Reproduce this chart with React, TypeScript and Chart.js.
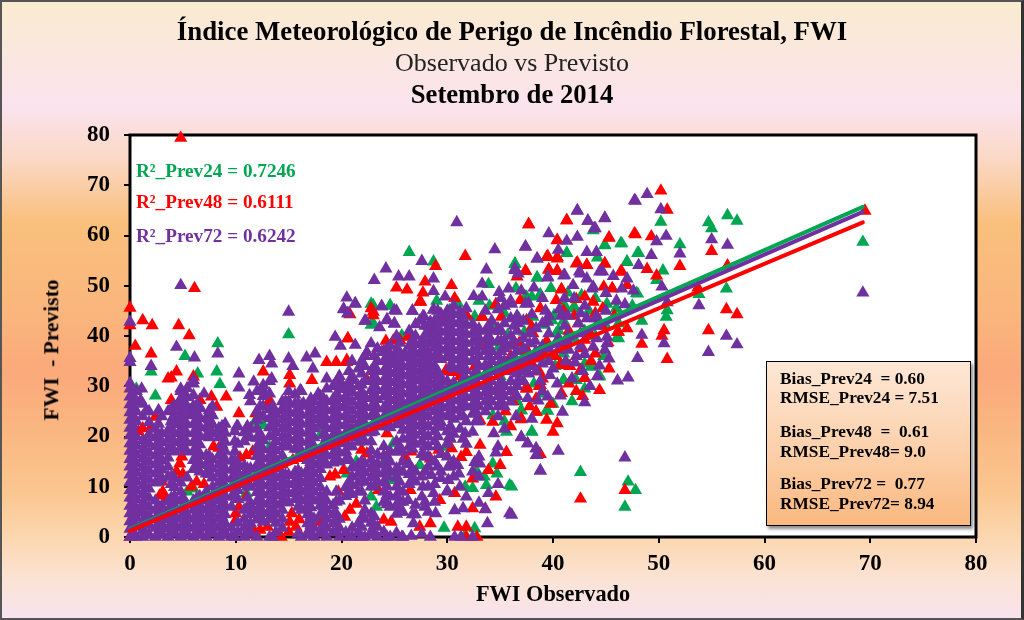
import React, { useEffect, useRef } from "react";
import { Chart, registerables } from "chart.js";

Chart.register(...registerables);

const axisTicks = [0, 10, 20, 30, 40, 50, 60, 70, 80];
const trendX = [0, 69.3];
const trendPrev24 = [1.6, 65.7];
const trendPrev48 = [1.2, 62.6];
const trendPrev72 = [1.4, 64.7];

const prev24Points = [
  [56.5,64],[57.4,62.9],[54.7,62.6],[55,61.4],[50.2,62.7],[52,58.2],[46.4,58.4],[44.9,58],[41.3,56.5],[48.1,56.5],[43.8,61],[44.2,55.6],
  [47,54.7],[50.4,53],[49.8,51.1],[38.5,51.6],[36.4,54.4],[48,48.4],[56.4,49.4],[53.8,48.3],[69.3,58.7],[50.8,45.1],[50.7,43.8],[48.4,43],
  [46.1,39.8],[38.8,48.1],[38,47.8],[37.4,47.8],[46,45.5],[45.1,46.4],[42.7,48.1],[41.1,46.1],[39.9,43.1],[40.5,41.1],[42.1,31.2],[43.7,33.9],
  [44.4,32.1],[41,31.2],[43,34.5],[37,25.2],[39.5,25.1],[38,21],[42.6,12.9],[47.1,11],[47.8,9.3],[46.8,6],[36.1,10],[41.9,45.5],
  [15,40.3],[8.3,38.5],[5.2,36],[2,32.9],[8.2,32.9],[8.5,30.4],[2.4,28.1],[6.4,32.5],
  [23,42.5],[24.6,46.1],[30.2,45.1],[32.6,43.8],[35.4,44.5],[38.1,43.8],[22.8,46.4],[25.7,40.1],[27,36.5],[28.5,39.1],[37,25.2],[39.4,25.2],
  [34.3,24.2],[35.6,20.9],[38,20.9],[34.3,14.6],[34.7,12.6],[32.8,13],[31.7,10],[32.4,9.7],[33.5,12],[33.7,10.3],[35.9,10.3],[29.7,1.8],
  [32.6,1.7],[31.7,0.4],[29.8,17.9],[27.4,14.3],[24.9,18.6],[24.2,15.6],[24.7,11.3],[22.8,8],[23.3,6],[21.4,15],[20.5,12.6],[18,20.3],
  [13.2,17.9],[12.6,22.2],[11.8,22.9],[5.4,9],[6,9.6],[1.3,17.3],[0.6,29.5],[11,8.7],[12.4,4.7],[15.9,10],
  [26.4,56.7],[28.7,54.8],[33.9,50.3],[36.4,54.3],[38.5,51.6],[41.3,56.5],[44.9,58.1],[46.5,58.4],[47,54.8],[48,56.5],[47.9,48.5],[23,46.1],
  [24.6,46],[22.8,42.2],[28.5,38.8],[32.6,43.8],[34.3,42.5],[36.2,38.8],[37.5,47.8],[38.8,48.3],[39.7,43.2],[40.3,40.5],[42.1,45.5],[46,45.5],
  [46.2,39.5],[41,31.2],[42.2,31.2],[43.6,33.9],[44.4,31.9],[39.2,42.2],[40.1,44.1],[41,43],[37.3,40.8],[35.7,40.2],[36.8,43.4],[34.9,37.8],
  [35,32],[36,35],[37,37],[37.8,35],[38.6,33],[39.4,36],[40.2,34],[41,36.5],[42,39.5],[43,41],[44,40],[45,42],[38.2,30.5],[39,28.5],[40,26.5],
  [36.6,27],[35.4,23],[41.8,27],[43,29.5],[44.8,36],[46.2,42.5],[47.5,46],[33,47],[31,46.5],[29,47],[43.4,45],[44,47.5],[41.4,48.6],[39.8,49.5],
  [36.5,49.5],[34,46],
];

const prev48Points = [
  [50.2,68.9],[50.8,65.1],[41.3,63],[37.7,62.2],[40.4,59],[45.3,59.5],[47.8,60.2],[49.3,59.8],[39.4,55.7],[40.4,55.7],[42.2,54.4],[43.2,54.1],
  [44.9,54.4],[55,56.9],[52,53.9],[56.5,54],[48.9,53.3],[49.8,52],[37.4,52.9],[39.6,53.2],[40.4,52.9],[46.4,52.8],[40.8,49.2],[47,50.1],
  [45.6,49.4],[44.8,49.8],[69.5,64.9],[53.7,49.6],[56.4,45.3],[57.4,44.3],[54.7,41.1],[50.5,41.1],[50.3,40],[46.1,40.8],[48.4,38.4],[50.8,35.4],
  [45.3,33.5],[43,31.6],[42.6,33.2],[40.8,34.2],[44.4,29.2],[40.8,28.6],[38.7,30],[37.5,29.5],[38.4,24.9],[37,23.4],[39.4,23.3],[40.4,22.6],
  [40,20.9],[38.8,16.5],[42.6,7.6],[46.8,9.3],[4.8,79.4],[6.1,49.5],
  [0,45.6],[1.2,43.1],[2.1,42.1],[4.6,42.1],[5.6,40.1],[0.5,38],[2,36.5],[0,42.1],
  [3.6,31.5],[4.4,32.9],[3.9,31.7],[6,31.9],[6.6,27.2],[8.2,25.9],[9.1,27.9],[3.9,27.2],[7.7,27.9],[2.4,23.9],[10.3,24.6],[11.9,24.6],
  [13.2,27.2],[12.6,32.9],[15.1,32.2],[15.1,30.5],[17.2,31.2],[18.6,34.8],[19.5,34.8],[20.5,34.8],[19.7,31.5],[20.6,39.5],[23,44.8],[27.5,46.8],
  [25.5,39.1],[24.9,39.1],[24.2,39],[28.6,41.1],[31.8,44.1],[33.3,43.8],[34.6,46.3],[37.5,43.1],[38.1,40.5],[39.1,36.5],[37.5,29.5],[38.8,30.2],
  [37,23.6],[38.4,24.9],[34.3,22.9],[33.1,18.3],[35.6,16.9],[35,14.3],[33.9,13.3],[31.8,16.9],[31.3,15.9],[30.4,17.6],[29.2,17.3],[28.4,15.6],
  [32.4,11.6],[30.7,8.7],[29.3,7.3],[34.6,8],[32.4,5.7],[33.6,5.6],[31,2],[31.8,2],[28.4,2.7],[27.4,2],[26.5,9.3],[24,3.4],[24.7,3],[23.5,9.3],
  [32.8,0],[31.8,0],[26.1,15.3],[33.1,23.2],[37.7,62.2],[41.3,63],[47.7,60.4],[45.3,59.6],[40.4,59.1],[31.7,55.9],[28.9,53.9],[27.9,50.8],
  [25.2,49.6],[26.2,49.2],[30.4,50.1],[27.7,48.6],[27.4,46.8],[30.7,47.5],[22.8,45.5],[23,44.1],[20.8,44.3],[20.6,39.5],[25.5,39.2],[26.3,39.8],
  [28.7,41.2],[29.8,43.8],[31.8,44.1],[33.3,43.8],[34.6,46.3],[35.1,43.8],[37.4,53],[36.6,51.8],[39.5,55.9],[40.4,55.4],[39.6,53.2],[40.4,53],
  [42.3,54.6],[43.2,54.1],[44.9,54.4],[46.5,52.8],[40.8,49.3],[42.2,47.3],[40.3,47.1],[43.8,46.8],[45.6,49.5],[44.7,45.5],[38,41.8],[38.8,45.5],
  [36.9,47.1],[46.2,40.8],[43,39.2],[40.7,34.5],[43,31.6],[38.7,32.9],[37.5,29.9],[38.8,30.2],[28.4,33.9],[30,32.9],[31.2,31.9],[32.6,33.9],
  [20.5,35.2],[22.4,31.2],[23.4,31],[27.7,36.5],[36.8,38.6],[37.6,37],[41.5,41],[42.4,42.5],[39.4,39],
  [4.7,14.6],[4.4,13],[5,12.5],[4.9,16],[1.2,21.6],[2,21.9],[0.8,21],[6.3,11],[7,10.5],[5.8,10],[3.1,9],[3.4,7.5],[2.8,8.2],
  [11,16.3],[10.4,15.8],[11.6,17],[7.9,18],[8.4,17.7],[6.6,27.2],[15.4,15.3],[16,15.7],[10,4.7],[10.3,6],[9.9,3],[11,8],[12.3,1.4],[13,2],[11.8,1],
  [15.3,4.7],[15.7,2],[16,3.5],[15.1,3],[20.8,5.4],[21.4,6.6],[20.3,4],[18.9,12],[19.4,12.4],[22.4,16.6],[21.9,17.3],[20.2,13.3],[26,16],[26.6,17],
  [24.3,20.6],[29.9,33.2],[30.6,32.8],[14.3,0],[15,1],[3,11],[13,26],[19.7,9],[17,6],[18,3],[22,13],[21.3,20],[25,24],[27.3,24],[0,0],[1,5],
  [34,31],[35,29.5],[35.5,34],[36.2,27],[36.8,33],[37.2,35.5],[38,34.5],[38.4,27.5],[39,31.5],[39.8,26.5],[40.2,36],[41,38.5],[41.6,34],[42.2,29],
  [42.8,37.5],[43.5,40.5],[44,36.5],[44.6,42],[45.2,38.7],[45.8,44],[47,41.5],[41,45],[42,44],[43,47.8],[44,44.5],[36,36],[35,41],[33.5,38.5],
  [34,27],[36,22],[35.5,25],[37.8,26],[41.5,30.5],[42.8,28],[43.6,35],
];

const prev72Points = [
  [4.8,50.1],[30.9,62.6],[42.3,65],[43.3,62.9],[44.9,63.5],[47.7,67],[44,61.4],[39.6,60.4],[41.3,58.9],[42.3,59.7],[37.4,57.7],[34.5,57.2],
  [40.5,57.1],[38.5,55.4],[43.2,56.7],[44.1,56.7],[27.6,54.9],[24.2,53.4],[33.7,53.2],[36.4,53.4],[36.7,52.4],[25.4,51.8],[26.4,51.8],[23.1,51.1],
  [28.7,51.4],[33.3,50.4],[39.5,51.6],[41.1,52.1],[42.5,52.8],[44.7,52.8],[45.7,51.9],[47,51.4],[46.5,49.4],[41.9,50.1],[43.8,49.8],[43.2,51.4],
  [28.7,48.9],[35.8,49.4],[34.9,48.7],[35.1,47.5],[32.5,47.9],[33.3,47.8],[29.8,47.8],[20.5,47.6],[21.3,46.5],[20.2,45.3],[20.6,44.5],[23.8,45.9],
  [25.2,45],[26.7,45],[28.7,45.3],[27.8,43.9],[22.3,43],[24.3,43.3],[25,42.4],[23.6,41.7],[27,42.3],[37.7,46.5],[41.1,47.5],[40.6,45.3],[45,48.5],
  [48.9,68.2],[47.8,66.9],[50.2,65.2],[42.3,64.9],[44.9,63.4],[43.3,62.9],[43.9,61.4],[50.7,59.9],[49.8,58.8],[55,59.2],[56.5,58.1],[52,56.4],
  [49.3,56.1],[37.4,57.8],[38.5,55.4],[48.1,54.1],[36.4,53.1],[44.4,52.8],[41,52],[39.5,51.8],[42.6,52.4],[43.7,49.4],[50.3,49.8],[50.8,46.7],
  [53.8,46.1],[56.4,40],[57.4,38.3],[54.7,36.8],[48.4,40.2],[50.5,38.5],[48,35.6],[45.1,39.8],[45.1,38.5],[44.9,37.2],[45.3,35.5],[44.4,34.1],
  [42.1,34.7],[46.1,31.1],[47.1,31.7],[43,26.8],[40.9,24.9],[40.7,28.1],[39.5,27.9],[38.6,27.1],[37.6,27.6],[40.4,30.5],[39.7,32.2],[37.7,32.5],
  [36.7,31.2],[43,36.4],[43.8,37.8],[41.5,37.2],[40.5,37.2],[40.5,17.1],[37,19.9],[37.6,18.6],[38.4,17.6],[38.5,16.3],[38.8,13.2],[46.8,15.8],
  [69.3,48.6],[36.1,4.4],[39.3,45],[38,44.3],[36.1,46.4],[37.4,46.4],[36.7,42.5],[38.3,39],[40.5,39.5],[42.4,42.5],[43.2,43.5],[41.1,42],
  [15,44.8],[0,42.8],[4.4,37.8],[6.1,35.7],[8.3,36.5],[0,34.8],[2,34],[0,35.6],
  [12.2,35.2],[13.2,36],[13.4,34.5],[15,35.5],[15.4,34],[16.7,35.7],[17.5,36.5],[17.3,33.5],[19.4,39.8],[19.9,38],[21.3,38.2],[22.2,43],[20.2,45.4],
  [21.3,46.4],[20.6,44.5],[23.8,45.9],[24.3,43.1],[25,45.1],[25,42.5],[26.7,45],[27.7,43.9],[28.7,45.2],[28.4,42.8],[27.4,43],
  [10.3,32.5],[10.3,29.7],[11.3,28.2],[11.7,30.9],[12.6,29.2],[13.4,31.5],[4.8,29.5],[6,31.2],[1.1,29.5],[1,27.2],[2.7,25.2],[4.1,25.9],[4.1,23.9],
  [4.7,27.2],[7,28.5],[6.6,25.9],[5.7,25.2],[8.5,20.6],[10.1,22],[14.5,25.9],[16.1,29.2],[16.4,26.6],[17.8,28.5],[18.6,31.5],[20,30.5],[21.1,31.2],
  [20.2,25.9],[22.4,36.8],[22.8,38.5],[23.8,36.8],[26,36.5],[24.7,35.2],[27.1,34.5],[27.5,31.9],[25.5,33.2],[22.8,29.2],[24,27.9],[26.5,23.9],
  [29.4,21.9],[30.2,19.9],[31.7,20.6],[32.4,20.9],[34.4,20.6],[37,19.8],[37.6,18.6],[38.4,17.6],[38.4,16.3],[38.8,13.2],[34.6,16.8],[32.6,14.9],
  [33.1,14.6],[30.1,14],[31,14.3],[31.1,12.6],[30.1,11.3],[33.9,8.7],[31.5,5.7],[33.6,5.5],[35.9,4.7],[33.8,2.7],[30.7,5.3],[28.7,8.7],[27.9,6],
  [26.3,7.3],[26.8,2.7],[28.4,0],[30.7,0],[32.4,0],[25.7,0],[26.6,0.2],[31.3,0],[30,9.2],[29.4,11.7],[28.5,12.3],[27.7,10],[28.9,4.7],
  [38.8,31],[40,33.5],[41.2,35],[42.2,36],[42.8,33],[43.5,30],[44.2,32],[39.5,42.8],[40.8,44],[42,47.5],[43,46],[44,43.5],[45,45],[46,47],[46.8,46.3],
  [47.6,49],[37,49],[38.2,49.6],[39,47.5],[41.8,31.5],[38,23.5],[36.5,24],[35.4,21.5],[34.8,10.5],[33,6.8],
];

// Each row: observed value, then the forecasts read at about that value (dense lower-left mass).
const prev72Columns = [
  [0,0,1.6,3.1,4.7,6.2,7.8,9.3,10.9,12.4,14,15.5,17.1,18.6,20.2,21.7,23.3,24.8,26.4,27.9,29.5,30.6],
  [0.6,0,2,3.8,5.6,7.4,9.2,11,12.8,14.6,16.4,18.2,20,23,25,27,29],
  [1.2,0,1.2,3,4.8,6.6,8.4,10.2,12,13.8,15.6,17.4,19.2,24,26.5],
  [1.8,0.5,2.4,4.2,6,7.8,9.6,11.4,13.2,15,16.8,18.6,20.4,22.8,25],
  [2.4,0,1.8,3.6,5.4,7.2,10.8,12.6,14.4,16.2,18,19.8,21.5],
  [3,0.8,2.6,4.4,6.2,11.6,13.4,15.2,17,18.8,20.6,24],
  [3.6,0,1.7,3.5,5.3,7.1,12,14,15.8,17.6,19.4,21.2,25],
  [4.2,0.9,2.7,4.5,6.3,8.1,9.9,11.7,17,18.8,20.6,22.4,24.2,26],
  [4.8,0,1.8,3.6,5.4,7.2,9,10.8,17.8,19.6,21.4,23.2,25,26.8,29],
  [5.4,0.8,2.6,4.4,6.4,11.8,17,18.8,20.6,22.4,24.2,26,27.8,29.6],
  [6,0,1.8,3.6,5.4,7.2,13.5,15.3,17.1,18.9,20.7,22.5,24.3,26.1,28.2,30.5],
  [6.6,0.9,2.7,4.5,6.3,8.1,13,14.8,16.6,18.4,20.2,22,23.8,25.6],
  [7.2,0,1.8,3.6,5.4,7.2,9,12.6,14.4,16.2,20,21.8,23.6],
  [7.8,1,2.8,4.6,6.4,8.2,10,11.8,13.6,15.4,20.6,22.4,24.2,26],
  [8.4,0,1.8,3.6,5.4,7.2,9,10.8,12.6,14.4,16.2,19.8,21.6],
  [9,0.9,2.7,4.5,6.3,8.1,9.9,11.7,13.5,15.3,17.1,18.9,20.7,22.5],
  [9.6,0,1.8,6,8,9.8,11.6,13.4,15.2],
  [10.2,1,2.8,7.5,9.3,11.1,12.9,14.7,18.5,22],
  [10.8,0,1.8,3.6,5.4,10.5,12.3,14.1,19,20.8],
  [11.4,0.9,2.7,4.5,6.3,10,11.8,13.6,19.8,21.6,27],
  [12,0,3.5,5.3,7.1,8.9,10.7,12.5,14.3,16.1,17.9,19.7,21.5,23.3,25,29],
  [12.6,3,4.8,6.6,8.4,10.2,12,13.8,15.6,17.4,19.2,24,26,28,30.2],
  [13.2,0,3.6,5.4,7.2,9,10.8,12.6,14.4,16.2,20,21.8,23.6,25.4,28.5,31],
  [13.8,1,2.8,4.6,6.4,8.2,10,11.8,13.6,15.4,17.2,19,20.8,22.6,24.4],
  [14.4,1.8,3.6,5.4,7.2,9,10.8,12.6,14.4,16.2,18,19.8,21.6,23.4,25.2,27],
  [15,6.9,8.7,10.5,12.3,18,19.8,21.6,23.4,25.2,27,29],
  [15.6,7.5,9.3,11.1,12.9,17.5,19.3,21.1,22.9,24.7,26.5,28.3],
  [16.2,0,5.4,7.2,9,10.8,12.6,17.2,19,20.8,22.6,24.4,26.2,29],
  [16.8,0.9,2.7,4.5,6.3,8.1,9.9,11.7,13.5,15.3,17.1,18.9,20.7,22.5,24.3,26.1],
  [17.4,0,1.8,3.6,7.2,9,10.8,12.6,14.4,16.2,18,19.8,21.6,23.4,25.2,27],
  [18,0.9,4.5,6.3,8.1,9.9,11.7,13.5,15.3,17.1,22.5,24.3,26.1,28],
  [18.6,0,1.8,3.6,5.4,7.2,9,14.4,16.2,18,19.8,21.6,23.4,25.2,27,29.5],
  [19.2,0.9,2.7,4.5,6.3,14.8,16.6,18.4,20.2,22,23.8,25.6,27.4,30],
  [19.8,0,1.8,3.6,7.2,15,16.8,18.6,20.4,22.2,24,25.8,27.6,29.4,32],
  [20.4,0.9,8.1,9.9,15.3,17.1,18.9,20.7,22.5,24.3,26.1,28,29.8],
  [21,0,1.8,8.5,10.3,12,13.8,18,19.8,21.6,23.4,25.2,27,29,32,35],
  [21.6,0.9,2.7,9,10.8,12.6,14.4,18.9,20.7,22.5,24.3,26.1,27.9,30,33.5],
  [22.2,0,3.6,5.4,7.2,11,12.8,14.6,19,20.8,22.6,24.4,26.2,28,31,34,36],
  [22.8,1,2.8,4.6,10,11.8,13.6,15.4,17.2,19,20.8,24,25.8,27.6,31,33],
  [23.4,0,2,11,12.8,14.6,16.4,22,23.8,25.6,27.4,29.2,31,33,35,37.5],
  [24,1,7,9,10.8,12.6,14.4,16.2,18,22,23.8,25.6,29.4,31.2,33,35,37],
  [24.6,0,6,8,13,15,17,21.8,23.6,25.4,27.2,29,30.8,32.6,34.4,36.2,38],
  [25.2,0.8,4.6,6.4,8.2,10,11.8,13.6,17,19,22.5,24.3,26.1,27.9,29.7,31.5,33.3,35.1,37,40],
  [25.8,0,5,7,9,13,15,17,19.5,21.3,23.1,24.9,26.7,28.5,30.3,32.1,33.9,35.7],
  [26.4,10.5,12.5,14.5,18,20,21.8,23.6,25.4,27.2,29,30.8,32.6,34.4,36.2,38,41],
  [27,4.5,6.4,11,13,18.5,20.3,22.1,23.9,25.7,27.5,29.3,31.1,32.9,34.7,36.5,38.3,40],
  [27.6,0.6,8,12,16.5,19,21,22.8,24.6,26.4,28.2,30,31.8,33.6,35.4,37.2,39],
  [28.2,5,10,14,16,18,20,22,24,26,27.8,29.6,31.4,33.2,35,36.8,38.6,40.4,42],
  [28.8,7,10.5,15,19,21,23,25,26.8,28.6,30.4,32.2,34,35.8,37.6,39.4,41.2,43],
  [29.4,13,16.5,22.8,24.6,26.4,28.2,30,31.8,35.4,37.2,39,40.8,42.6,44.4],
  [30,9,16,18.5,21,24,25.8,27.6,29.4,31,36,37.8,39.6,41.4,43.2,45],
  [30.6,12,15,20.5,23.5,25.3,27.1,28.9,30.7,33.5,35.3,37.1,38.9,40.7,42.5,44.3,46],
  [31.2,10,21.5,24,25.8,27.6,29.4,34,35.8,37.6,39.4,41.2,43,44.8],
  [31.8,8,18.5,23,26,27.8,29.6,31.4,33.2,35,36.8,38.6,40.4,42.2,45.5],
  [32.4,13,24.5,26.3,28.1,29.9,31.7,35.2,37,38.8,40.6,42.4],
  [33,12,16,23,26,28,30,32,34,36,37.8,39.6,41.4],
  [33.6,25,27,28.8,30.6,32.4,34.2,37,39,41,45],
  [34.2,27,29,31,33,35,37,38.8,41,43],
  [34.8,18,24,26,28,30,32,34,36,39,41.5,45.3],
  [35.4,26,28,30,33,35,37.5,39,42.5,46],
  [36,27,29,31,33.5,35.5,38,40,43.5,47],
  [36.6,28,30,32.5,34.5,37,41,44],
  [37.2,31,33,35,37.5,39.5,43],
  [37.8,34,36,38.5,40.5],
  [38.4,33,35.5,37,41.5],
  [39,29,34.5,38,42.5],
  [39.6,35,37.5,40.5,44],
  [41.4,38.8,40,44],
  [42.6,38,40.5,44.5],
  [44.1,39.5,42,44],
  // second pass over the mass, between the rows above
  [0.3,0.4,2.3,4.1,5.9,7.7,9.5,11.3,13.1,14.9,16.7,18.5,20.3,22.1,24,26,28],
  [1.5,0.7,2.5,4.3,6.1,7.9,9.7,11.5,13.3,15.1,16.9,18.7,25],
  [2.7,0.5,2.3,4.1,6,11,12.8,14.6,16.4,18.2,20,22.5],
  [3.9,0.6,2.4,4.2,6,7.8,10.5,12,17.6,19.4,21.2,23,25.5],
  [5.1,0.3,2.1,3.9,5.7,7.5,17.5,19.3,21.1,22.9,24.7,26.5,28.3],
  [6.3,0.5,2.3,4.1,5.9,7.7,13.6,15.4,17.2,19,20.8,22.6,24.4,26.2],
  [7.5,0.7,2.5,4.3,6.1,7.9,12.5,14.3,16.1,19.8,21.6,23.4,25.2],
  [8.7,0.4,2.2,4,5.8,7.6,9.4,11.2,13,14.8,16.6,18.4,20.2,22],
  [9.9,0,8,9.8,11.6,13.4,15.2,17,19,21],
  [11.1,0.6,2.4,6,7.8,10,11.8,13.6,20,22],
  [12.3,3.5,5.3,7.1,8.9,10.7,12.5,14.3,16.1,18,20.5,24,26],
  [13.5,0,3.6,5.4,7.2,9,10.8,12.6,14.4,16.2,18,20,22,24,26],
  [14.7,6.9,8.7,10.5,12.3,18,19.8,21.6,23.4,25.2,27],
  [15.9,0.6,6,7.8,9.6,11.4,13.2,17.5,19.3,21.1,22.9,24.7,26.5],
  [17.1,0.5,2.3,4.1,5.9,7.7,9.5,11.3,13.1,14.9,16.7,18.5,20.3,22.1,23.9,25.7,27.5],
  [18.3,0.7,2.5,4.3,6.1,7.9,14.9,16.7,18.5,20.3,22.1,23.9,25.7,27.5],
  [19.5,1,2.8,4.6,7,9,15.5,17.3,19.1,20.9,22.7,24.5,26.3,28.1,30.5],
  [20.7,0,9,10.8,15.5,18,19.8,21.6,23.4,25.2,27,28.8,30.6,33],
  [21.9,0,2,3.8,9,11,13,15,19.5,21.3,23.1,24.9,26.7,28.5,30.3,32.5,35],
  [23.1,0.5,2.3,4.1,10,12,14,21,22.8,24.6,26.4,28.2,30,32,34,36],
  [24.3,0,6.5,8.3,10.1,12,14,16,23,24.8,26.6,28.4,30.2,32,33.8,35.6,37.4],
  [25.5,5,7,9,11,13,18,22.4,24.2,26,27.8,29.6,31.4,33.2,35,36.8,38.6],
  [26.7,4.5,11.5,13.5,17.5,19.3,21.1,22.9,24.7,26.5,28.3,30.1,31.9,33.7,35.5,37.3,39.1],
  [27.9,7,13,16,18,20,22,24,25.8,27.6,29.4,31.2,33,34.8,36.6,38.4,40.2,42],
  [29.1,14,18,20,22,24,26,27.7,29.5,31.3,33,36,37.8,39.6,41.4,43.2,45],
  [30.3,14,19.5,22,24.5,26.3,28.1,29.9,34,35.8,37.6,39.4,41.2,43,44.8],
  [31.5,19.5,24,26,27.8,29.6,31.4,33.2,35,36.8,38.6,40.4,42.2,44],
  [32.7,23,25,27,29,31,33,35,37,39,41],
  [33.9,26,28,30,32,34,36,38,40,42],
  [35.1,27,29,31,33,35,37,39,41],
  [36.3,29,33,36,39,42],
];

function prev72AllPoints() {
  const pts = prev72Points.map(([x, y]) => ({ x, y }));
  prev72Columns.forEach(([x, ...ys]) => ys.forEach((y) => pts.push({ x, y })));
  return pts;
}

const SERIF = "'Liberation Serif', serif";
const GREEN = "#00A651";
const RED = "#FF0000";
const PURPLE = "#7030A0";

const textBase: React.CSSProperties = {
  position: "absolute",
  fontFamily: SERIF,
  whiteSpace: "pre",
  color: "#000",
  lineHeight: 1,
};

function centered(top: number, size: number, weight: string, color: string, text: string) {
  return (
    <div style={{ ...textBase, left: 0, width: 1024, textAlign: "center", top, fontSize: size, fontWeight: weight as any, color }}>
      {text}
    </div>
  );
}

export default function App() {
  const ref = useRef<HTMLCanvasElement>(null);
  useEffect(() => {
    const plotFrame = {
      id: "plotFrame",
      beforeDraw(c: any) {
        const a = c.chartArea;
        c.ctx.save();
        c.ctx.fillStyle = "#fff";
        c.ctx.fillRect(a.left, a.top, a.width, a.height);
        c.ctx.restore();
      },
      beforeDatasetsDraw(c: any) {
        const a = c.chartArea;
        c.ctx.save();
        c.ctx.strokeStyle = "#000";
        c.ctx.lineWidth = 3;
        c.ctx.strokeRect(a.left, a.top, a.width, a.height);
        c.ctx.restore();
      },
    };
    const scatter = (label: string, data: any[], color: string, order: number) => ({
      type: "scatter" as const,
      label,
      data,
      order,
      pointStyle: "triangle",
      pointRadius: 7.6,
      pointBorderWidth: 0,
      pointBackgroundColor: color,
      clip: false as any,
    });
    const trend = (label: string, ys: number[], color: string, order: number) => ({
      type: "line" as const,
      label,
      data: trendX.map((x, i) => ({ x, y: ys[i] })),
      order,
      borderColor: color,
      borderWidth: 4,
      borderCapStyle: "round" as const,
      pointRadius: 0,
      clip: false as any,
    });
    const tickFont = { family: SERIF, size: 23, weight: "bold" as const };
    const chart = new Chart(ref.current!, {
      data: {
        datasets: [
          trend("Tend_Prev48", trendPrev48, RED, 0),
          trend("Tend_Prev72", trendPrev72, PURPLE, 1),
          trend("Tend_Prev24", trendPrev24, GREEN, 2),
          scatter("Prev72", prev72AllPoints(), PURPLE, 3),
          scatter("Prev48", prev48Points.map(([x, y]) => ({ x, y })), RED, 4),
          scatter("Prev24", prev24Points.map(([x, y]) => ({ x, y })), GREEN, 5),
        ],
      } as any,
      plugins: [plotFrame],
      options: {
        animation: false,
        responsive: false,
        layout: { padding: { left: 0, top: 135, right: 48, bottom: 0 } },
        plugins: { legend: { display: false }, tooltip: { enabled: false }, title: { display: false } },
        scales: {
          x: {
            type: "linear",
            min: 0,
            max: 80,
            afterBuildTicks: (s: any) => { s.ticks = axisTicks.map((value) => ({ value })); },
            afterFit: (s: any) => { s.height = 83; },
            ticks: { color: "#000", font: tickFont, padding: 7, maxRotation: 0 },
            grid: { drawOnChartArea: false, drawTicks: true, tickLength: 6, color: "#000", lineWidth: 2 },
            border: { display: false },
            title: {
              display: true,
              text: "FWI Observado",
              color: "#000",
              font: { family: SERIF, size: 22.3, weight: "bold" },
              padding: { top: 0, bottom: 11 },
            },
          },
          y: {
            type: "linear",
            min: 0,
            max: 80,
            afterBuildTicks: (s: any) => { s.ticks = axisTicks.map((value) => ({ value })); },
            afterFit: (s: any) => { s.width = 130; },
            ticks: { color: "#000", font: tickFont, padding: 14 },
            grid: { drawOnChartArea: false, drawTicks: true, tickLength: 6, color: "#000", lineWidth: 2 },
            border: { display: false },
          },
        },
      } as any,
    });
    return () => chart.destroy();
  }, []);

  return (
    <div
      style={{
        position: "absolute",
        left: 0,
        top: 0,
        width: 1024,
        height: 620,
        boxSizing: "border-box",
        border: "2px solid #555",
        borderRight: "3px solid #333",
        overflow: "hidden",
        background:
          "linear-gradient(180deg,#FAEBD0 0%,#FBE3EE 17%,#FBD9C8 25%,#F9BF7C 36%,#FAB67D 50%,#FBA97A 60%,#FAB781 70%,#FBC791 80%,#FCD9B5 88%,#FBE3D6 94%,#F8E3EE 100%)",
      }}
    >
      <div style={{ position: "absolute", left: -2, top: -2, width: 1024, height: 620 }}>
        <canvas ref={ref} width={1024} height={620} style={{ position: "absolute", left: 0, top: 0 }} />
        {centered(18, 26.8, "bold", "#000", "Índice Meteorológico de Perigo de Incêndio Florestal, FWI")}
        {centered(50, 26, "normal", "#222", "Observado vs Previsto")}
        {centered(81, 26.7, "bold", "#000", "Setembro de 2014")}
        <div
          style={{
            ...textBase,
            left: 52,
            top: 350,
            fontSize: 21.5,
            fontWeight: "bold",
            transform: "translate(-50%,-50%) rotate(-90deg)",
          }}
        >
          {"FWI  - Previsto"}
        </div>
        <div style={{ ...textBase, left: 136, top: 161, fontSize: 19.2, fontWeight: "bold", color: GREEN }}>R²_Prev24 = 0.7246</div>
        <div style={{ ...textBase, left: 136, top: 192, fontSize: 19.2, fontWeight: "bold", color: RED }}>R²_Prev48 = 0.6111</div>
        <div style={{ ...textBase, left: 136, top: 226, fontSize: 19.2, fontWeight: "bold", color: PURPLE }}>R²_Prev72 = 0.6242</div>
        <div
          style={{
            position: "absolute",
            left: 766,
            top: 361,
            width: 205,
            height: 165,
            boxSizing: "border-box",
            border: "1.5px solid #000",
            boxShadow: "2px 3px 3px rgba(0,0,0,0.45)",
            background: "linear-gradient(180deg,#FDE7D6 0%,#FCD2AE 50%,#FBB87F 100%)",
          }}
        />
        {[
          ["Bias_Prev24  = 0.60", 370],
          ["RMSE_Prev24 = 7.51", 389],
          ["Bias_Prev48  =  0.61", 423],
          ["RMSE_Prev48= 9.0", 443],
          ["Bias_Prev72 =  0.77", 475],
          ["RMSE_Prev72= 8.94", 495],
        ].map(([t, top]) => (
          <div key={t as string} style={{ ...textBase, left: 780, top: top as number, fontSize: 17.3, fontWeight: "bold" }}>
            {t}
          </div>
        ))}
      </div>
    </div>
  );
}
